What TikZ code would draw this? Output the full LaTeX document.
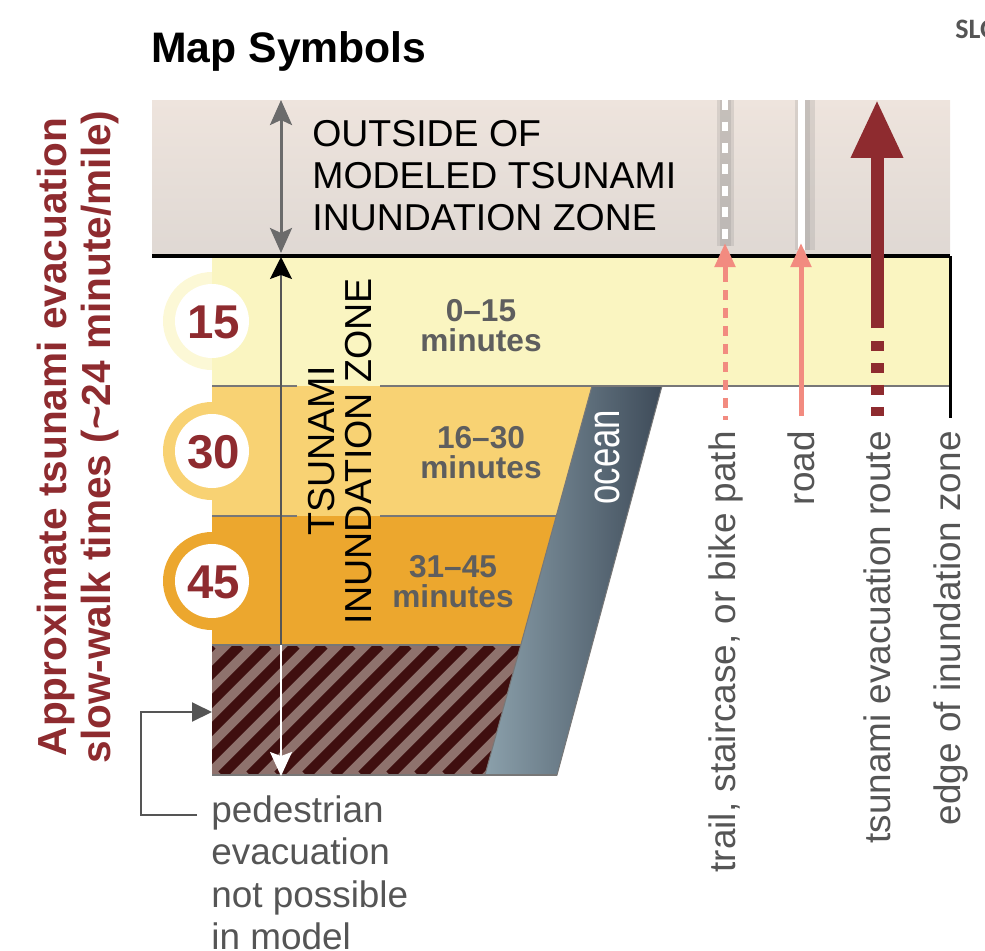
\documentclass[tikz,border=0pt]{standalone}
\usepackage{fontspec}
\setmainfont{Liberation Sans}
\newfontfamily\slofont{Carlito}
\usetikzlibrary{arrows.meta}
\definecolor{outsidetop}{HTML}{EEE4DD}
\definecolor{outsidebot}{HTML}{DFD8D3}
\definecolor{band15}{HTML}{FAF5C1}
\definecolor{ringyellow}{HTML}{FCF8D6}
\definecolor{band30}{HTML}{F8D273}
\definecolor{band45}{HTML}{ECA72E}
\definecolor{hatchdark}{HTML}{3F0F0F}
\definecolor{hatchlight}{HTML}{8F726D}
\definecolor{oceanlight}{HTML}{8BA0AB}
\definecolor{oceandark}{HTML}{3E4B59}
\definecolor{linegrey}{HTML}{777777}
\definecolor{darkred}{HTML}{8E2B2F}
\definecolor{salmon}{HTML}{F28B80}
\definecolor{textgrey}{HTML}{555555}
\definecolor{mingrey}{HTML}{5E5E5E}
\definecolor{arrowgrey}{HTML}{6B6B6B}
\definecolor{shadowgrey}{HTML}{777777}
\begin{document}
\begin{tikzpicture}[x=0.02cm,y=-0.02cm]
  \tikzstyle{bandline}=[draw=linegrey, line width=0.03cm]
  \tikzstyle{sidelabel}=[rotate=90, anchor=east, inner sep=0pt, text=textgrey, font=\fontsize{21}{24}\selectfont]
  \tikzstyle{minlabel}=[align=center, inner sep=0pt, text=mingrey, font=\bfseries\fontsize{18}{17}\selectfont]
  \tikzstyle{number}=[inner sep=0pt, text=darkred, font=\bfseries\fontsize{27}{30}\selectfont]
  \tikzstyle{stripe}=[draw=hatchdark, line width=0.2cm]
  \tikzstyle{pointer}=[draw=textgrey, line width=0.04cm, -{Triangle[length=0.4cm,width=0.38cm]}]
  \tikzstyle{salmonline}=[draw=salmon, line width=0.1cm]
  \tikzstyle{softshadow}=[draw=shadowgrey, opacity=0.18]

  \useasboundingbox (0,0) rectangle (985,951);

  % zones
  \shade[top color=outsidetop, bottom color=outsidebot] (152,100) rectangle (950,256);
  \fill[ringyellow] (212,321) circle[radius=49];
  \fill[band30] (212,451) circle[radius=49];
  \fill[band45] (212,581) circle[radius=49];
  \fill[band15] (212,256) rectangle (950,386);
  \fill[band30] (212,386) -- (592,386) -- (556,516) -- (212,516) -- cycle;
  \fill[band45] (212,516) -- (556,516) -- (521,645) -- (212,645) -- cycle;
  \fill[hatchlight] (212,645) -- (521,645) -- (485,775) -- (212,775) -- cycle;
  \begin{scope}
    \clip (212,645) -- (521,645) -- (485,775) -- (212,775) -- cycle;
    \foreach \s in {212,240,...,660}
      \draw[stripe] (\s-130,775) -- (\s,645);
  \end{scope}
  \shade[left color=oceanlight, right color=oceandark, draw=linegrey, line width=0.02cm]
    (592,386) -- (662,386) -- (557,775) -- (485,775) -- cycle;
  \node[rotate=90, xscale=0.76, text=white, inner sep=0pt, font=\fontsize{26}{28}\selectfont] (ocean) at (607,457) {ocean};

  \draw[bandline] (212,386) -- (297,386) (380,386) -- (950,386);
  \draw[bandline] (212,516) -- (297,516) (380,516) -- (556,516);
  \draw[bandline] (212,645) -- (521,645);
  \draw[bandline] (212,775) -- (557,775);

  \foreach \n/\y in {15/321,30/451,45/581} {
    \fill[white] (212,\y) circle[radius=37];
    \node[number] (n\n) at (214,\y+1) {\n};
  }

  \draw[black, line width=0.08cm] (152,256) -- (950,256);

  % zone arrows
  \coordinate (outTop) at (281,100);
  \coordinate (outBot) at (281,253);
  \coordinate (zoneTop) at (281,257);
  \coordinate (hatchTop) at (281,645);
  \coordinate (zoneBot) at (281,776);
  \draw[arrowgrey, line width=0.06cm, {Stealth[length=0.5cm,width=0.44cm,inset=0.1cm]}-{Stealth[length=0.5cm,width=0.44cm,inset=0.1cm]}] (outTop) -- (outBot);
  \draw[textgrey, line width=0.03cm, -{Stealth[length=0.44cm,width=0.44cm,inset=0.08cm,color=black]}] (hatchTop) -- (zoneTop);
  \draw[white, line width=0.03cm, -{Stealth[length=0.48cm,width=0.44cm,inset=0.08cm]}] (hatchTop) -- (zoneBot);

  % trail
  \coordinate (trailTop) at (725,100);
  \coordinate (trailMid) at (725,243);
  \coordinate (trailBot) at (725,420);
  \draw[softshadow, line width=0.34cm] (trailTop) -- (725,246);
  \draw[softshadow, line width=0.22cm] (trailTop) -- (725,246);
  \draw[white, line width=0.12cm, dash pattern=on 0.2cm off 0.23cm] (trailTop) -- (725,246);
  \draw[salmonline, dash pattern=on 0.2cm off 0.16cm] (725,272) -- (trailBot);
  \draw[salmonline, -{Triangle[length=0.48cm,width=0.4cm]}] (725,272) -- (trailMid);

  % road
  \coordinate (roadTop) at (801,100);
  \coordinate (roadMid) at (801,243);
  \coordinate (roadBot) at (801,416);
  \draw[softshadow, line width=0.4cm] (805,100) -- (805,250);
  \draw[softshadow, line width=0.24cm] (804,100) -- (804,250);
  \draw[white, line width=0.14cm] (roadTop) -- (801,250);
  \draw[salmonline, -{Triangle[length=0.48cm,width=0.4cm]}] (roadBot) -- (roadMid);

  % evacuation route
  \coordinate (routeTip) at (877,100);
  \coordinate (routeEnd) at (877,328);
  \coordinate (routeBot) at (877,416);
  \draw[darkred, line width=0.26cm, -{Triangle[length=1.16cm,width=0.98cm]}] (routeEnd) -- (routeTip);
  \draw[darkred, line width=0.26cm, dash pattern=on 0.2cm off 0.24cm] (877,341) -- (routeBot);

  % edge of zone
  \coordinate (edgeTop) at (950,256);
  \coordinate (edgeBot) at (950,418);
  \draw[black, line width=0.06cm] (edgeTop) -- (edgeBot);

  \node[sidelabel] (trailLbl) at (726,431) {trail, staircase, or bike path};
  \node[sidelabel] (roadLbl) at (801,431) {road};
  \node[sidelabel] (routeLbl) at (877,431) {tsunami evacuation route};
  \node[sidelabel] (edgeLbl) at (951,431) {edge of inundation zone};

  % texts
  \node[anchor=base west, inner sep=0pt, font=\bfseries\fontsize{24.3}{28}\selectfont] (title) at (151,62) {Map Symbols};
  \node[anchor=base west, inner sep=0pt, text=textgrey, font=\slofont\bfseries\fontsize{16}{18}\selectfont] (slo) at (955,38) {SLO};
  \node[anchor=west, align=left, inner sep=0pt, font=\fontsize{21.3}{23.9}\selectfont] (outside) at (312,176) {OUTSIDE OF\\MODELED TSUNAMI\\INUNDATION ZONE};
  \node[rotate=90, align=center, inner sep=0pt, font=\fontsize{21.4}{21.5}\selectfont] (zone) at (340,451) {TSUNAMI\\INUNDATION ZONE};
  \node[minlabel] (m15) at (481,326) {0–15\\minutes};
  \node[minlabel] (m30) at (481,453) {16–30\\minutes};
  \node[minlabel] (m45) at (453,582) {31–45\\minutes};
  \node[rotate=90, align=center, inner sep=0pt, text=darkred, font=\bfseries\fontsize{23.1}{24.5}\selectfont] (walk) at (78,437) {Approximate tsunami evacuation\\slow-walk times (\textasciitilde 24 minute/mile)};
  \node[anchor=north west, align=left, inner sep=0pt, text=textgrey, font=\fontsize{21}{24.2}\selectfont] (ped) at (211,795) {pedestrian\\evacuation\\not possible\\in model};
  \coordinate (pedLead) at (197,815);
  \coordinate (hatchIn) at (212,712);
  \draw[pointer] (pedLead) -- (141,815) |- (hatchIn);
\end{tikzpicture}
\end{document}
